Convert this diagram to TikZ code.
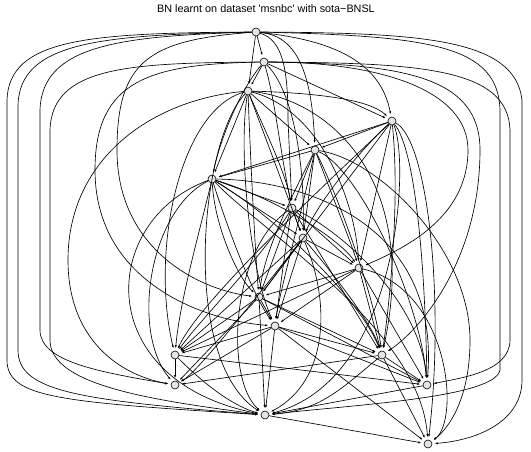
\documentclass[tikz,border=0pt]{standalone}
\usepackage{fontspec}
\setmainfont{Liberation Sans}
\usetikzlibrary{arrows.meta}
\begin{document}
\begin{tikzpicture}[x=1pt, y=-1pt]
    % Styles
    \tikzstyle{bnnode} = [circle, draw, fill=gray!20, inner sep=0pt,
        minimum size=8pt, line width=0.6pt]
    \tikzstyle{edge} = [line width=0.65pt, -{Latex[length=3pt,width=2.2pt]},
        shorten >=2.5pt]

    \useasboundingbox (0,0) rectangle (531,452);

    % Title
    \node [font=\fontsize{10.8}{12}\selectfont] (title) at (266,9)
        {BN learnt on dataset \textquotesingle msnbc\textquotesingle\ with sota−BNSL};

    % === NODES ===
    \node [bnnode] (n1) at (256,32) {};
    \node [bnnode] (n2) at (264,62) {};
    \node [bnnode] (n3) at (248,91) {};
    \node [bnnode] (n4) at (392,121) {};
    \node [bnnode] (n5) at (315,150) {};
    \node [bnnode] (n6) at (212,179) {};
    \node [bnnode] (n7) at (292,208) {};
    \node [bnnode] (n8) at (303,238) {};
    \node [bnnode] (n9) at (359,268) {};
    \node [bnnode] (n10) at (259,297) {};
    \node [bnnode] (n11) at (275,326) {};
    \node [bnnode] (n12) at (175,355) {};
    \node [bnnode] (n13) at (382,355) {};
    \node [bnnode] (n14) at (175,385) {};
    \node [bnnode] (n15) at (427,385) {};
    \node [bnnode] (n16) at (265,415) {};
    \node [bnnode] (n17) at (428,444) {};

    % === EDGES: n1 ===
    \draw [edge] (n1) -- (n2);
    \draw [edge] (n1) -- (n3);
    \draw [edge] (n1) .. controls (300,36) and (312,80) .. (n5);
    \draw [edge] (n1) .. controls (283,40) and (288,70) .. (288,120) -- (n7);
    \draw [edge] (n1) .. controls (330,40) and (380,60) .. (n4);
    \draw [edge] (n1) .. controls (90,33) and (9,38) .. (7,100) -- (7,360)
        .. controls (7,398) and (60,402) .. (n16);
    \draw [edge] (n1) .. controls (100,35) and (20,42) .. (18,105) -- (18,350)
        .. controls (18,392) and (80,400) .. (n16);
    \draw [edge] (n1) .. controls (120,36) and (42,45) .. (40,110) -- (40,330)
        .. controls (40,362) and (100,372) .. (n14);
    \draw [edge] (n1) .. controls (150,40) and (117,60) .. (117,150)
        .. controls (117,250) and (200,290) .. (n10);
    \draw [edge] (n1) .. controls (420,33) and (515,38) .. (522,100) -- (522,380)
        .. controls (522,420) and (480,440) .. (n17);
    \draw [edge] (n1) .. controls (430,36) and (498,45) .. (500,110) -- (500,370)
        .. controls (495,398) and (350,405) .. (n16);

    % === EDGES: n2 ===
    \draw [edge] (n2) -- (n3);
    \draw [edge] (n2) -- (n4);
    \draw [edge] (n2) .. controls (240,90) and (220,140) .. (n6);
    \draw [edge] (n2) .. controls (275,100) and (280,150) .. (n7);
    \draw [edge] (n2) .. controls (292,90) and (305,160) .. (n8);
    \draw [edge] (n2) .. controls (130,63) and (52,66) .. (50,130) -- (50,340)
        .. controls (50,385) and (150,400) .. (n16);
    \draw [edge] (n2) .. controls (150,64) and (95,80) .. (95,170)
        .. controls (95,280) and (200,320) .. (n11);
    \draw [edge] (n2) .. controls (420,63) and (508,68) .. (510,130) -- (510,340)
        .. controls (510,372) and (460,378) .. (n15);
    \draw [edge] (n2) .. controls (400,64) and (480,75) .. (480,150)
        .. controls (480,260) and (420,330) .. (n13);
    \draw [edge] (n2) .. controls (380,62) and (468,90) .. (468,150)
        .. controls (468,220) and (400,250) .. (n9);

    % === EDGES: n3 ===
    \draw [edge] (n3) .. controls (320,93) and (370,100) .. (n4);
    \draw [edge] (n3) -- (n5);
    \draw [edge] (n3) -- (n6);
    \draw [edge] (n3) .. controls (260,120) and (285,170) .. (n7);
    \draw [edge] (n3) -- (n8);
    \draw [edge] (n3) .. controls (250,150) and (255,250) .. (n10);
    \draw [edge] (n3) .. controls (238,150) and (250,270) .. (n11);
    \draw [edge] (n3) .. controls (180,110) and (150,250) .. (n12);
    \draw [edge] (n3) .. controls (150,100) and (68,160) .. (68,260)
        .. controls (68,340) and (120,375) .. (n14);
    \draw [edge] (n3) .. controls (320,110) and (355,200) .. (n9);
    \draw [edge] (n3) .. controls (330,100) and (420,180) .. (n13);
    \draw [edge] (n3) .. controls (200,140) and (180,360) .. (n16);

    % === EDGES: n4 ===
    \draw [edge] (n4) -- (n5);
    \draw [edge] (n4) -- (n6);
    \draw [edge] (n4) .. controls (360,150) and (320,200) .. (n8);
    \draw [edge] (n4) -- (n9);
    \draw [edge] (n4) .. controls (400,200) and (390,300) .. (n13);
    \draw [edge] (n4) .. controls (415,150) and (425,260) .. (n15);
    \draw [edge] (n4) .. controls (428,140) and (445,300) .. (n17);
    \draw [edge] (n4) -- (n10);
    \draw [edge] (n4) .. controls (330,180) and (200,300) .. (n12);
    \draw [edge] (n4) .. controls (410,160) and (400,380) .. (n16);

    % === EDGES: n5 ===
    \draw [edge] (n5) -- (n6);
    \draw [edge] (n5) -- (n7);
    \draw [edge] (n5) -- (n8);
    \draw [edge] (n5) .. controls (330,190) and (350,240) .. (n9);
    \draw [edge] (n5) .. controls (290,200) and (265,250) .. (n10);
    \draw [edge] (n5) .. controls (300,220) and (280,290) .. (n11);
    \draw [edge] (n5) .. controls (340,200) and (375,300) .. (n13);
    \draw [edge] (n5) .. controls (360,170) and (420,300) .. (n15);
    \draw [edge] (n5) .. controls (380,160) and (470,250) .. (470,340)
        .. controls (470,410) and (440,435) .. (n17);

    % === EDGES: n6 ===
    \draw [edge] (n6) -- (n7);
    \draw [edge] (n6) -- (n8);
    \draw [edge] (n6) .. controls (280,200) and (340,240) .. (n9);
    \draw [edge] (n6) .. controls (215,230) and (240,280) .. (n10);
    \draw [edge] (n6) .. controls (225,220) and (250,290) .. (n11);
    \draw [edge] (n6) .. controls (200,230) and (180,300) .. (n12);
    \draw [edge] (n6) .. controls (280,220) and (360,300) .. (n13);
    \draw [edge] (n6) .. controls (150,210) and (130,330) .. (n14);
    \draw [edge] (n6) .. controls (100,220) and (90,380) .. (n16);
    \draw [edge] (n6) .. controls (300,180) and (440,220) .. (n15);
    \draw [edge] (n6) .. controls (260,230) and (420,330) .. (n17);

    % === EDGES: n7 ===
    \draw [edge] (n7) -- (n8);
    \draw [edge] (n7) -- (n9);
    \draw [edge] (n7) -- (n10);
    \draw [edge] (n7) .. controls (285,250) and (280,290) .. (n11);
    \draw [edge] (n7) .. controls (260,260) and (200,320) .. (n12);
    \draw [edge] (n7) -- (n13);
    \draw [edge] (n7) .. controls (340,230) and (420,300) .. (n15);
    \draw [edge] (n7) .. controls (230,250) and (225,380) .. (n16);

    % === EDGES: n8 ===
    \draw [edge] (n8) -- (n9);
    \draw [edge] (n8) -- (n10);
    \draw [edge] (n8) -- (n11);
    \draw [edge] (n8) -- (n12);
    \draw [edge] (n8) .. controls (330,270) and (370,320) .. (n13);
    \draw [edge] (n8) .. controls (270,280) and (200,370) .. (n14);
    \draw [edge] (n8) .. controls (330,300) and (330,380) .. (n16);

    % === EDGES: n9 ===
    \draw [edge] (n9) -- (n10);
    \draw [edge] (n9) -- (n11);
    \draw [edge] (n9) -- (n13);
    \draw [edge] (n9) -- (n15);
    \draw [edge] (n9) -- (n12);
    \draw [edge] (n9) .. controls (450,290) and (460,420) .. (n17);

    % === EDGES: n10 to n16 ===
    \draw [edge] (n10) -- (n11);
    \draw [edge] (n10) -- (n12);
    \draw [edge] (n10) -- (n13);
    \draw [edge] (n10) -- (n14);
    \draw [edge] (n10) -- (n15);
    \draw [edge] (n10) -- (n16);
    \draw [edge] (n11) -- (n12);
    \draw [edge] (n11) -- (n13);
    \draw [edge] (n11) -- (n15);
    \draw [edge] (n11) -- (n16);
    \draw [edge] (n11) -- (n17);
    \draw [edge] (n11) -- (n14);
    \draw [edge] (n12) -- (n14);
    \draw [edge] (n12) -- (n15);
    \draw [edge] (n12) .. controls (200,380) and (230,405) .. (n16);
    \draw [edge] (n13) -- (n14);
    \draw [edge] (n13) -- (n15);
    \draw [edge] (n13) .. controls (340,390) and (320,410) .. (n16);
    \draw [edge] (n13) -- (n17);
    \draw [edge] (n15) -- (n16);
    \draw [edge] (n16) -- (n17);
\end{tikzpicture}
\end{document}
